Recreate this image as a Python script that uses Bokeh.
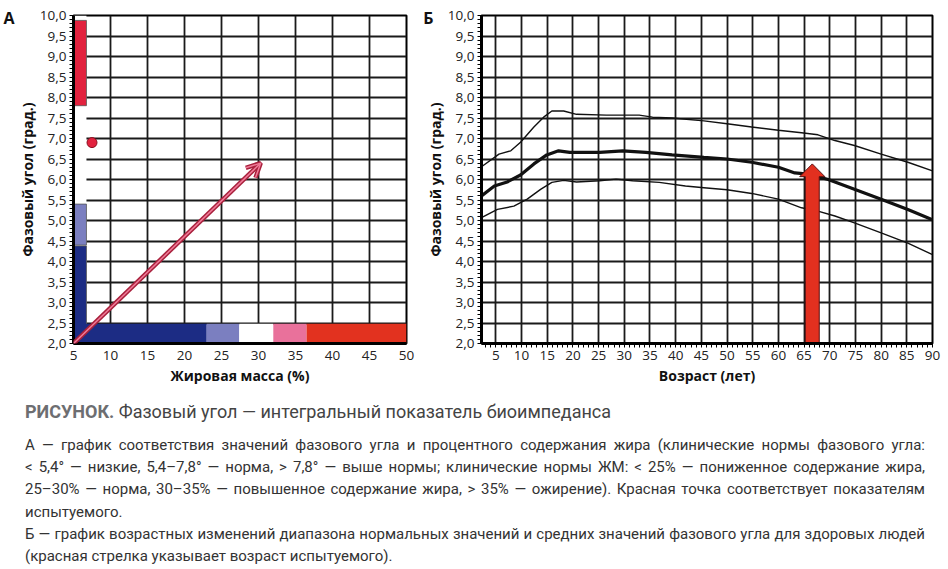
from bokeh.plotting import figure
from bokeh.models import (SingleIntervalTicker, FixedTicker, LinearAxis, Arrow,
                          OpenHead, Div)
from bokeh.layouts import row, column
from bokeh.embed import file_html
from bokeh.resources import INLINE

FONT = "Open Sans"
CAPTION_FONT = "Roboto"

# шкала фазового угла (общая для А и Б)
y_ticks = [2.0, 2.5, 3.0, 3.5, 4.0, 4.5, 5.0, 5.5, 6.0, 6.5, 7.0, 7.5, 8.0, 8.5, 9.0, 9.5, 10.0]
y_tick_labels = ["2,0", "2,5", "3,0", "3,5", "4,0", "4,5", "5,0", "5,5", "6,0", "6,5",
                 "7,0", "7,5", "8,0", "8,5", "9,0", "9,5", "10,0"]

# А: нормы фазового угла (вертикальная шкала слева)
angle_low = [2.0, 4.4, 7.8]
angle_high = [4.38, 5.4, 9.88]
angle_colors = ["#1c2c84", "#7b7fc0", "#e2223e"]

# А: нормы жировой массы (горизонтальная шкала снизу)
fat_from = [5, 23, 27.4, 32, 36.5]
fat_to = [23, 27.4, 32, 36.5, 50]
fat_colors = ["#1c2c84", "#7b7fc0", "#ffffff", "#e9719b", "#e2321f"]

subject_fat = [7.5]
subject_angle = [6.9]
trend_fat = [5.0, 30.3]
trend_angle = [2.0, 6.4]

# Б: возрастные кривые
upper_age = [2.2, 5.6, 7.9, 9.8, 12.4, 14.3, 15.9, 18.2, 20.7, 26.5, 32.9, 35.5, 39.3,
             45.5, 50, 54.8, 60, 64.5, 67.7, 71, 74.8, 80, 85.2, 90]
upper_val = [6.31, 6.62, 6.70, 6.91, 7.28, 7.52, 7.67, 7.67, 7.59, 7.57, 7.57, 7.52, 7.50,
             7.43, 7.36, 7.28, 7.20, 7.14, 7.09, 6.95, 6.83, 6.62, 6.42, 6.21]

mean_age = [2.2, 4.7, 7.2, 9.8, 12.4, 14.9, 17.2, 19.4, 25.2, 29.7, 34.2, 39.3, 45.5,
            50, 54.8, 60, 63.2, 65.8, 69.7, 74.8, 80, 85.2, 90]
mean_val = [5.60, 5.84, 5.94, 6.11, 6.38, 6.60, 6.70, 6.66, 6.66, 6.70, 6.66, 6.60, 6.54,
            6.50, 6.42, 6.30, 6.16, 6.13, 6.00, 5.76, 5.52, 5.27, 5.02]

lower_age = [2.2, 5.3, 8.5, 11.1, 13.7, 15.9, 18.2, 20.7, 25.2, 28.4, 31.6, 36.8, 41.9,
             45.5, 50, 54.8, 60, 64.5, 67.7, 71, 74.8, 80, 85.2, 90]
lower_val = [5.07, 5.27, 5.35, 5.52, 5.76, 5.93, 5.98, 5.94, 5.97, 6.01, 5.97, 5.93, 5.84,
             5.80, 5.75, 5.66, 5.52, 5.31, 5.23, 5.11, 4.94, 4.70, 4.45, 4.17]

subject_age = 66.6
arrow_tip = 6.38
arrow_head_base = 6.07

panel_letter_y = 9.93

caption_title = "Фазовый угол — интегральный показатель биоимпеданса"
caption_lines = [
    "А — график соответствия значений фазового угла и процентного содержания жира (клинические нормы фазового угла:",
    "&lt; 5,4° — низкие, 5,4–7,8° — норма, &gt; 7,8° — выше нормы; клинические нормы ЖМ: &lt; 25% — пониженное содержание жира,",
    "25–30% — норма, 30–35% — повышенное содержание жира, &gt; 35% — ожирение). Красная точка соответствует показателям",
    "испытуемого.",
    "Б — график возрастных изменений диапазона нормальных значений и средних значений фазового угла для здоровых людей",
    "(красная стрелка указывает возраст испытуемого).",
]
justified = [True, True, True, False, True, False]


def style_panel(p, x_label, x_minor, letter, letter_standoff):
    p.outline_line_color = "black"
    p.outline_line_width = 2
    p.grid.grid_line_color = "#1a1a1a"
    p.grid.grid_line_width = 1.8
    p.yaxis.ticker = SingleIntervalTicker(interval=0.5, num_minor_ticks=5)
    p.xaxis.ticker = SingleIntervalTicker(interval=5, num_minor_ticks=x_minor)
    p.yaxis.major_label_overrides = dict(zip(y_ticks, y_tick_labels))
    p.axis.axis_line_color = "black"
    p.axis.axis_line_width = 3
    p.axis.major_tick_out = 0
    p.axis.major_tick_in = 0
    p.axis.minor_tick_out = 4
    p.axis.minor_tick_in = 0
    p.axis.minor_tick_line_color = "black"
    p.axis.major_label_text_font = FONT
    p.axis.major_label_text_font_size = "13.5px"
    p.axis.major_label_text_color = "#222"
    p.yaxis.major_label_standoff = 3
    p.axis.axis_label_text_font = FONT
    p.axis.axis_label_text_font_size = "14px"
    p.axis.axis_label_text_font_style = "bold"
    p.axis.axis_label_text_color = "#111"
    p.yaxis.axis_label_standoff = 0
    p.xaxis.axis_label_standoff = 3
    p.xaxis.axis_label = x_label
    p.yaxis.axis_label = "Фазовый угол (град.)"
    if x_minor == 0:
        p.xaxis.minor_tick_out = 0
        p.xaxis.major_label_standoff = 7
    else:
        p.xaxis.major_label_standoff = 3

    # буква панели — отдельная ось слева без линий
    tag = LinearAxis(ticker=FixedTicker(ticks=[panel_letter_y]),
                     major_label_overrides={panel_letter_y: letter},
                     axis_line_color=None, major_tick_line_color=None,
                     minor_tick_line_color=None, major_tick_out=0, major_tick_in=0,
                     minor_tick_out=0, minor_tick_in=0,
                     major_label_standoff=letter_standoff,
                     major_label_text_font=FONT, major_label_text_font_style="bold",
                     major_label_text_font_size="16px", major_label_text_color="#111")
    p.add_layout(tag, "left")


# ---------- А ----------
pa = figure(width=420, height=392, x_range=(5, 50), y_range=(2, 10),
            toolbar_location=None, output_backend="svg",
            min_border_left=72, min_border_right=14, min_border_top=15, min_border_bottom=49)
style_panel(pa, "Жировая масса (%)", 0, "А", 0)

# белая полоса под вертикальной шкалой
pa.quad(left=[5], right=[6.75], bottom=[2], top=[10], fill_color="white", line_color=None)
pa.quad(left=[5] * 3, right=[6.75] * 3, bottom=angle_low, top=angle_high,
        fill_color=angle_colors, line_color="#555", line_width=0.8)
pa.quad(left=fat_from, right=fat_to, bottom=[2] * 5, top=[2.48] * 5,
        fill_color=fat_colors, line_color=None)

pa.add_layout(Arrow(end=OpenHead(size=14, line_color="#a8203c", line_width=4.5),
                    x_start=trend_fat[0], y_start=trend_angle[0],
                    x_end=trend_fat[1], y_end=trend_angle[1],
                    line_color="#a8203c", line_width=4.5))
pa.add_layout(Arrow(end=OpenHead(size=14, line_color="#f07a98", line_width=1.5),
                    x_start=trend_fat[0], y_start=trend_angle[0],
                    x_end=trend_fat[1], y_end=trend_angle[1],
                    line_color="#f07a98", line_width=1.5))
pa.scatter(subject_fat, subject_angle, size=10, fill_color="#e2223e", line_color="#8a1020")

# ---------- Б ----------
pb = figure(width=528, height=392, x_range=(2.2, 90), y_range=(2, 10),
            toolbar_location=None, output_backend="svg",
            min_border_left=57, min_border_right=16, min_border_top=15, min_border_bottom=49)
style_panel(pb, "Возраст (лет)", 5, "Б", -11)

pb.line(upper_age, upper_val, line_color="#111", line_width=1.4)
pb.line(lower_age, lower_val, line_color="#111", line_width=1.4)
pb.line(mean_age, mean_val, line_color="#111", line_width=3.2)

shaft, head = 1.35, 2.45
pb.patch([subject_age - shaft, subject_age - shaft, subject_age - head, subject_age,
          subject_age + head, subject_age + shaft, subject_age + shaft],
         [2.0, arrow_head_base, arrow_head_base, arrow_tip, arrow_head_base, arrow_head_base, 2.0],
         fill_color="#e2301f", line_color="#5a1010", line_width=1)

# ---------- подпись ----------
body = ""
for line, just in zip(caption_lines, justified):
    align = "text-align:justify;text-align-last:justify;" if just else ""
    body += f'<div style="white-space:nowrap;{align}">{line}</div>'

caption = Div(width=948, height=177, text=(
    f'<div style="font-family:\'{CAPTION_FONT}\';width:920px;padding-left:20px;color:#333;">'
    f'<div style="font-size:18px;line-height:24px;margin-top:3px;color:#444;">'
    f'<b style="color:#6d6e71;">РИСУНОК.</b> {caption_title}</div>'
    f'<div style="font-size:15px;line-height:22.2px;margin-top:10px;">{body}</div></div>'))

layout = column(row(pa, pb), caption)
open("out.html", "w").write(file_html(layout, INLINE))
